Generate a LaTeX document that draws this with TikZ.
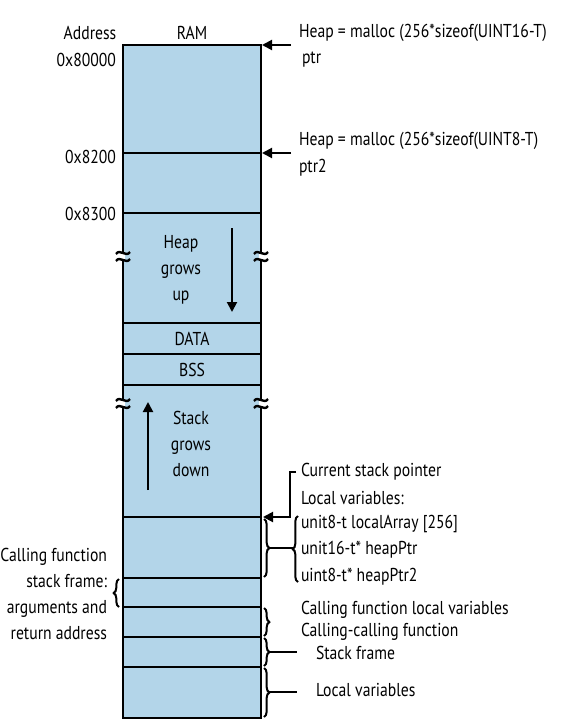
\documentclass[tikz,border=0pt]{standalone}
\usepackage{fontspec}
\setmainfont[FakeStretch=0.84]{PT Sans}
\usetikzlibrary{decorations.pathreplacing,arrows.meta}
\definecolor{ramblue}{RGB}{179,213,233}
\tikzset{
  lbl/.style={font=\fontsize{14}{19.5}\selectfont, inner sep=0pt},
  arr/.style={-{Triangle[length=7.5pt,width=7.5pt]}},
  brc/.style={decorate, decoration={brace, amplitude=4pt}},
}
\begin{document}
\begin{tikzpicture}[x=0.75pt,y=-0.75pt,line width=1.5pt]
\useasboundingbox (0,0) rectangle (563,721);
% RAM body
\fill[ramblue] (123,45) rectangle (261,718);
\foreach \yy in {153,213,323,354,385,517,578,607,637,667}
  \draw (123,\yy) -- (261,\yy);
\draw (123,45) rectangle (261,718);
% break marks
\foreach \cx in {123,261}
 \foreach \cy in {256,403} {
  \fill[white] (\cx-2,\cy-3) rectangle (\cx+2,\cy+3);
  \draw[line width=1.8pt] (\cx-7,\cy-2) .. controls (\cx-3,\cy-8) and (\cx+3,\cy+2) .. (\cx+7,\cy-4);
  \draw[line width=1.8pt] (\cx-7,\cy+5) .. controls (\cx-3,\cy-1) and (\cx+3,\cy+9) .. (\cx+7,\cy+3);
 }
% headers
\node[lbl] (addr) at (90,33) {Address};
\node[lbl] (ram) at (192,33) {RAM};
\node[lbl,anchor=east] (a1) at (117,60) {0x80000};
\node[lbl,anchor=east] (a2) at (117,157) {0x8200};
\node[lbl,anchor=east] (a3) at (117,214) {0x8300};
% heap pointers
\node[lbl,anchor=west] (h1) at (298,33) {Heap = malloc (256*sizeof(UINT16-T)};
\node[lbl,anchor=west] (p1) at (301,60) {ptr};
\node[lbl,anchor=west] (h2) at (298,141) {Heap = malloc (256*sizeof(UINT8-T)};
\node[lbl,anchor=west] (p2) at (298,168) {ptr2};
\coordinate (t1) at (262,45);
\coordinate (s1) at (291,45);
\coordinate (t2) at (262,153);
\coordinate (s2) at (291,153);
\draw[arr] (s1) -- (t1);
\draw[arr] (s2) -- (t2);
% heap / stack
\node[lbl,align=center] (heap) at (181,270) {Heap\\grows\\up};
\coordinate (hs) at (232,228);
\coordinate (he) at (232,312);
\draw[arr] (hs) -- (he);
\node[lbl] (data) at (192,339) {DATA};
\node[lbl] (bss) at (192,370) {BSS};
\node[lbl,align=center] (stack) at (191,444) {Stack\\grows\\down};
\coordinate (ss) at (148,490);
\coordinate (se) at (148,402);
\draw[arr] (ss) -- (se);
% current stack pointer
\node[lbl,anchor=west] (csp) at (300,472) {Current stack pointer};
\node[lbl,anchor=west] (lv) at (300,498) {Local variables:};
\coordinate (cspt) at (263,517);
\draw[arr] ([xshift=-3pt]csp.west) -- (290,472) -- (290,517) -- (cspt);
\node[lbl,anchor=west] (v1) at (300,524) {unit8-t localArray [256]};
\node[lbl,anchor=west] (v2) at (300,550) {unit16-t* heapPtr};
\node[lbl,anchor=west] (v3) at (300,577) {uint8-t* heapPtr2};
\draw[brc] (264,519) -- (264,577);
\draw[brc] (298,582) -- (298,516);
\draw (264+5,548) -- (298-5,548);
% left brace
\node[lbl,align=right,anchor=east] (cf) at (108,594) {Calling function\\stack frame:\\arguments and\\return address};
\draw[brc] (119,607) -- (119,579);
% right lower braces
\draw[brc] (264,608) -- (264,636);
\draw[brc] (264,638) -- (264,666);
\draw[brc] (264,668) -- (264,717);
\draw (269,652) -- (297,652);
\draw (269,692) -- (297,692);
\node[lbl,anchor=west] (cl) at (300,610) {Calling function local variables};
\node[lbl,anchor=west] (cc) at (300,632) {Calling-calling function};
\node[lbl,anchor=west] (sf) at (315,653) {Stack frame};
\node[lbl,anchor=west] (lv2) at (315,690) {Local variables};
\end{tikzpicture}
\end{document}
